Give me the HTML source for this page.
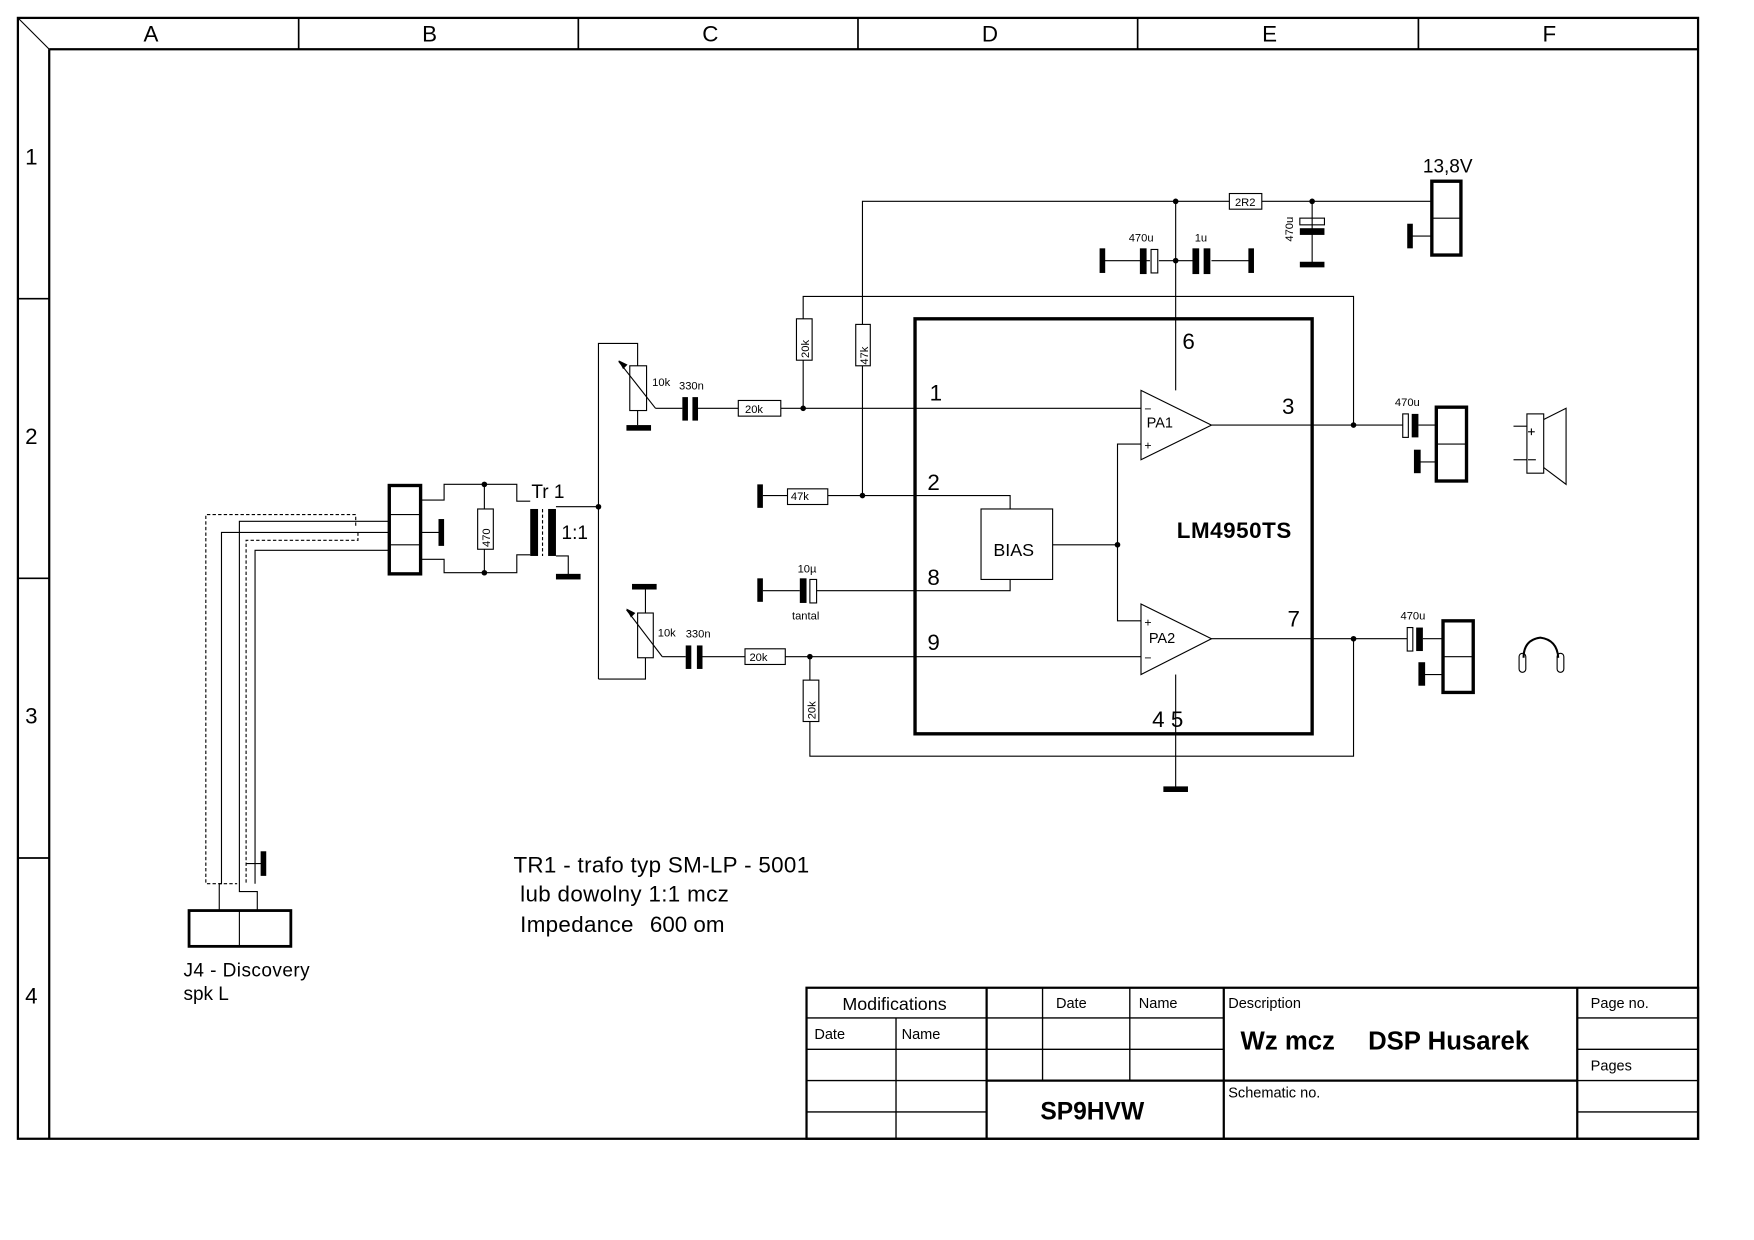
<!DOCTYPE html>
<html><head><meta charset="utf-8"><style>
html,body{margin:0;padding:0;background:#fff;}
svg{display:block}
text{font-family:"Liberation Sans",Arial,sans-serif;fill:#000}
</style></head><body>
<svg width="1754" height="1240" viewBox="0 0 1568 1108.5" xmlns="http://www.w3.org/2000/svg">
<g fill="none" stroke="#000" stroke-width="1">
<rect x="16" y="16" width="1502" height="1002" stroke-width="2"/>
<line x1="44" y1="44" x2="1518" y2="44" stroke-width="2"/>
<line x1="44" y1="44" x2="44" y2="1018" stroke-width="2"/>
<line x1="16" y1="16" x2="44" y2="44"/>
<g stroke-width="1.5">
<line x1="267" y1="16" x2="267" y2="44"/><line x1="517" y1="16" x2="517" y2="44"/>
<line x1="767" y1="16" x2="767" y2="44"/><line x1="1017" y1="16" x2="1017" y2="44"/>
<line x1="1268" y1="16" x2="1268" y2="44"/>
<line x1="16" y1="267" x2="44" y2="267"/><line x1="16" y1="517" x2="44" y2="517"/>
<line x1="16" y1="767" x2="44" y2="767"/>
</g>
<g stroke-width="2">
<rect x="721" y="883" width="797" height="135"/>
<line x1="882" y1="883" x2="882" y2="1018"/>
<line x1="1094" y1="883" x2="1094" y2="1018"/>
<line x1="1410" y1="883" x2="1410" y2="1018"/>
<line x1="882" y1="966" x2="1410" y2="966"/>
</g>
<g stroke-width="1.2">
<line x1="721" y1="910" x2="1094" y2="910"/>
<line x1="721" y1="938" x2="1094" y2="938"/>
<line x1="721" y1="966" x2="882" y2="966"/>
<line x1="721" y1="994" x2="882" y2="994"/>
<line x1="801" y1="910" x2="801" y2="1018"/>
<line x1="932" y1="883" x2="932" y2="966"/>
<line x1="1010" y1="883" x2="1010" y2="966"/>
<line x1="1410" y1="910" x2="1518" y2="910"/>
<line x1="1410" y1="938" x2="1518" y2="938"/>
<line x1="1410" y1="966" x2="1518" y2="966"/>
<line x1="1410" y1="994" x2="1518" y2="994"/>
</g>

<rect x="818" y="285" width="355" height="371" stroke-width="3"/>
<polygon points="1020,349 1083,380 1020,411"/>
<polygon points="1020,540 1083,571 1020,603"/>
<rect x="877" y="455" width="64" height="63"/>

<polyline points="771,290 771,180 1099,180"/>
<rect x="1099" y="173" width="29" height="14"/>
<line x1="1128" y1="180" x2="1280" y2="180"/>
<rect x="1280" y="162" width="26" height="66" stroke-width="3"/>
<line x1="1280" y1="195" x2="1306" y2="195"/>
<line x1="1262" y1="211" x2="1280" y2="211"/>
<line x1="1051" y1="180" x2="1051" y2="349"/>
<line x1="985" y1="233" x2="1028" y2="233"/>
<line x1="1036" y1="233" x2="1068" y2="233"/>
<line x1="1083" y1="233" x2="1118" y2="233"/>
<rect x="1029" y="223" width="6" height="21"/>
<line x1="1173" y1="180" x2="1173" y2="236"/>
<rect x="1162" y="195" width="22" height="6"/>
<rect x="765" y="290" width="13" height="37"/>
<line x1="771" y1="327" x2="771" y2="443"/>
<polyline points="718,285 718,265 1210,265 1210,380"/>
<rect x="712" y="285" width="14" height="37"/>
<line x1="718" y1="322" x2="718" y2="365"/>
<line x1="622" y1="365" x2="660" y2="365"/>
<rect x="660" y="358" width="38" height="14"/>
<line x1="698" y1="365" x2="1020" y2="365"/>
<line x1="586" y1="365" x2="610" y2="365"/>
<polyline points="535,607 535,307 570,307 570,327"/>
<rect x="563" y="327" width="15" height="40"/>
<line x1="570" y1="367" x2="570" y2="380"/>
<line x1="553" y1="323" x2="586" y2="365"/>
<polyline points="535,607 577,607 577,588"/>
<rect x="570" y="548" width="14" height="40"/>
<line x1="577" y1="548" x2="577" y2="527"/>
<line x1="560" y1="545" x2="592" y2="587"/>
<line x1="592" y1="587" x2="613" y2="587"/>
<line x1="628" y1="587" x2="666" y2="587"/>
<rect x="666" y="580" width="36" height="14"/>
<line x1="702" y1="587" x2="1020" y2="587"/>
<line x1="724" y1="587" x2="724" y2="608"/>
<rect x="718" y="608" width="14" height="37"/>
<polyline points="724,645 724,676 1210,676 1210,571"/>
<line x1="682" y1="443" x2="704" y2="443"/>
<rect x="704" y="437" width="36" height="14"/>
<polyline points="740,443 903,443 903,455"/>
<line x1="682" y1="528" x2="715" y2="528"/>
<rect x="724" y="518" width="6" height="21"/>
<polyline points="730,528 903,528 903,518"/>
<line x1="941" y1="487" x2="999" y2="487"/>
<polyline points="1020,397 999,397 999,555 1020,555"/>
<line x1="1083" y1="380" x2="1254" y2="380"/>
<rect x="1254" y="370" width="5" height="21"/>
<line x1="1268" y1="380" x2="1284" y2="380"/>
<rect x="1284" y="364" width="27" height="66" stroke-width="3"/>
<line x1="1284" y1="397" x2="1311" y2="397"/>
<line x1="1268" y1="413" x2="1284" y2="413"/>
<line x1="1083" y1="571" x2="1258" y2="571"/>
<rect x="1258" y="561" width="5" height="21"/>
<line x1="1272" y1="571" x2="1290" y2="571"/>
<rect x="1290" y="555" width="27" height="64" stroke-width="3"/>
<line x1="1290" y1="587" x2="1317" y2="587"/>
<line x1="1272" y1="603" x2="1290" y2="603"/>
<line x1="1051" y1="603" x2="1051" y2="705"/>
<rect x="1365" y="370" width="15" height="53"/>
<polyline points="1380,375 1400,365 1400,433 1380,418"/>
<line x1="1353" y1="381" x2="1365" y2="381"/><line x1="1353" y1="411" x2="1365" y2="411"/>
<line x1="1366" y1="386" x2="1372" y2="386"/><line x1="1369" y1="383" x2="1369" y2="389"/>
<line x1="1366" y1="411" x2="1373" y2="411"/>
<path d="M1362,588 Q1362,572 1377,570 Q1392,572 1393,588" stroke-width="1.8"/>
<rect x="1358" y="584" width="6" height="17" rx="3"/>
<rect x="1392" y="584" width="6" height="17" rx="3"/>
<rect x="348" y="434" width="28" height="79" stroke-width="3"/>
<line x1="348" y1="460" x2="376" y2="460"/><line x1="348" y1="487" x2="376" y2="487"/>
<polyline points="376,447 397,447 397,433 462,433 462,448 474,448"/>
<polyline points="376,500 397,500 397,512 462,512 462,496 474,496"/>
<line x1="376" y1="476" x2="394" y2="476"/>
<line x1="433" y1="433" x2="433" y2="455"/><rect x="427" y="455" width="14" height="36"/>
<line x1="433" y1="491" x2="433" y2="512"/>
<line x1="485" y1="455" x2="485" y2="497" stroke-dasharray="3,2"/>
<line x1="497" y1="453" x2="535" y2="453"/>
<polyline points="497,497 508,497 508,514"/>
<polyline points="348,466 214,466 214,797 230,797 230,814"/>
<polyline points="348,492 228,492 228,790"/>
<polyline points="348,476 198,476 198,790 196,790 196,814"/>
<polyline points="318,470 318,460 184,460 184,790 212,790" stroke-dasharray="3,2"/>
<polyline points="320,476 320,483 220,483 220,790" stroke-dasharray="3,2"/>
<line x1="220" y1="772" x2="236" y2="772"/>
<rect x="169" y="814" width="91" height="32" stroke-width="2.5"/>
<line x1="214" y1="814" x2="214" y2="846"/>
</g>
<g fill="#000">
<rect x="1258" y="200" width="5" height="22"/>
<rect x="983" y="222" width="5" height="22"/><rect x="1116" y="222" width="5" height="22"/>
<rect x="1019" y="222" width="6" height="23"/>
<rect x="1066" y="222" width="6" height="23"/><rect x="1076" y="222" width="6" height="23"/>
<rect x="1162" y="204" width="22" height="6"/><rect x="1162" y="234" width="22" height="5"/>
<rect x="610" y="355" width="5" height="21"/><rect x="619" y="355" width="5" height="21"/>
<rect x="560" y="380" width="22" height="5"/>
<rect x="565" y="522" width="22" height="5"/>
<rect x="613" y="577" width="5" height="21"/><rect x="623" y="577" width="5" height="21"/>
<rect x="677" y="433" width="5" height="21"/>
<rect x="677" y="517" width="5" height="21"/><rect x="715" y="517" width="6" height="22"/>
<rect x="1262" y="370" width="6" height="21"/><rect x="1264" y="402" width="6" height="21"/>
<rect x="1266" y="561" width="6" height="21"/><rect x="1268" y="592" width="6" height="21"/>
<rect x="1040" y="703" width="22" height="5"/>
<rect x="474" y="455" width="7" height="42"/><rect x="490" y="455" width="7" height="42"/>
<rect x="497" y="513" width="22" height="5"/>
<rect x="392" y="464" width="5" height="24"/>
<rect x="233" y="761" width="5" height="22"/>
<circle cx="1051" cy="180" r="2.5"/><circle cx="1173" cy="180" r="2.5"/><circle cx="1051" cy="233" r="2.5"/>
<circle cx="718" cy="365" r="2.5"/><circle cx="771" cy="443" r="2.5"/><circle cx="999" cy="487" r="2.5"/>
<circle cx="724" cy="587" r="2.5"/><circle cx="1210" cy="380" r="2.5"/><circle cx="1210" cy="571" r="2.5"/>
<circle cx="535" cy="453" r="2.5"/><circle cx="433" cy="433" r="2.5"/><circle cx="433" cy="512" r="2.5"/>
<polygon points="553,322 561,326 557,330"/><polygon points="560,544 568,548 564,552"/>
</g>
<g font-size="20" text-anchor="middle">
<text x="135" y="37">A</text><text x="384" y="37">B</text><text x="635" y="37">C</text>
<text x="885" y="37">D</text><text x="1135" y="37">E</text><text x="1385" y="37">F</text>
<text x="28" y="147">1</text><text x="28" y="397">2</text><text x="28" y="647">3</text><text x="28" y="897">4</text>
</g>
<g font-size="20">
<text x="831" y="358">1</text><text x="829" y="438">2</text><text x="829" y="523">8</text><text x="829" y="581">9</text>
<text x="1057" y="312">6</text><text x="1146" y="370">3</text><text x="1151" y="560">7</text><text x="1030" y="650">4 5</text>
<text x="1272" y="154" font-size="17">13,8V</text>
<text x="475" y="445" font-size="17">Tr 1</text><text x="502" y="482" font-size="17">1:1</text>
<text x="1052" y="481" font-weight="bold" letter-spacing="0.5">LM4950TS</text>
<text x="888" y="497" font-size="16">BIAS</text>
<text x="1025" y="382" font-size="13">PA1</text><text x="1027" y="575" font-size="13">PA2</text>
<text x="1023" y="369" font-size="11">−</text><text x="1023" y="402" font-size="11">+</text>
<text x="1023" y="560" font-size="11">+</text><text x="1023" y="592" font-size="11">−</text>
</g>
<g font-size="10">
<text x="1104" y="184">2R2</text><text x="666" y="369">20k</text><text x="670" y="591">20k</text>
<text x="707" y="447">47k</text><text x="583" y="345">10k</text><text x="607" y="348">330n</text>
<text x="588" y="569">10k</text><text x="613" y="570">330n</text>
<text x="1009" y="216">470u</text><text x="1068" y="216">1u</text>
<text x="713" y="512">10µ</text><text x="708" y="554">tantal</text>
<text x="1247" y="363">470u</text><text x="1252" y="554">470u</text>
<text transform="translate(723,320) rotate(-90)">20k</text>
<text transform="translate(776,326) rotate(-90)">47k</text>
<text transform="translate(729,643) rotate(-90)">20k</text>
<text transform="translate(1156,216) rotate(-90)">470u</text>
<text transform="translate(438,489) rotate(-90)">470</text>
</g>
<g font-size="20">
<text x="459" y="780" letter-spacing="0.3">TR1 - trafo typ SM-LP - 5001</text>
<text x="465" y="806" letter-spacing="0.3">lub dowolny 1:1 mcz</text>
<text x="465" y="833" letter-spacing="0.3">Impedance</text>
<text x="581" y="833">600 om</text>
<text x="164" y="873" font-size="17" letter-spacing="0.4">J4 - Discovery</text>
<text x="164" y="894" font-size="17">spk L</text>
</g>
<g font-size="13">
<text x="753" y="903" font-size="16">Modifications</text>
<text x="944" y="901">Date</text><text x="1018" y="901">Name</text>
<text x="1098" y="901">Description</text><text x="1422" y="901">Page no.</text>
<text x="728" y="929">Date</text><text x="806" y="929">Name</text>
<text x="1422" y="957">Pages</text><text x="1098" y="981">Schematic no.</text>
<text x="1109" y="938" font-size="23" font-weight="bold">Wz mcz</text>
<text x="1223" y="938" font-size="23" font-weight="bold">DSP Husarek</text>
<text x="930" y="1001" font-size="22" font-weight="bold">SP9HVW</text>
</g>
</svg>
</body></html>
